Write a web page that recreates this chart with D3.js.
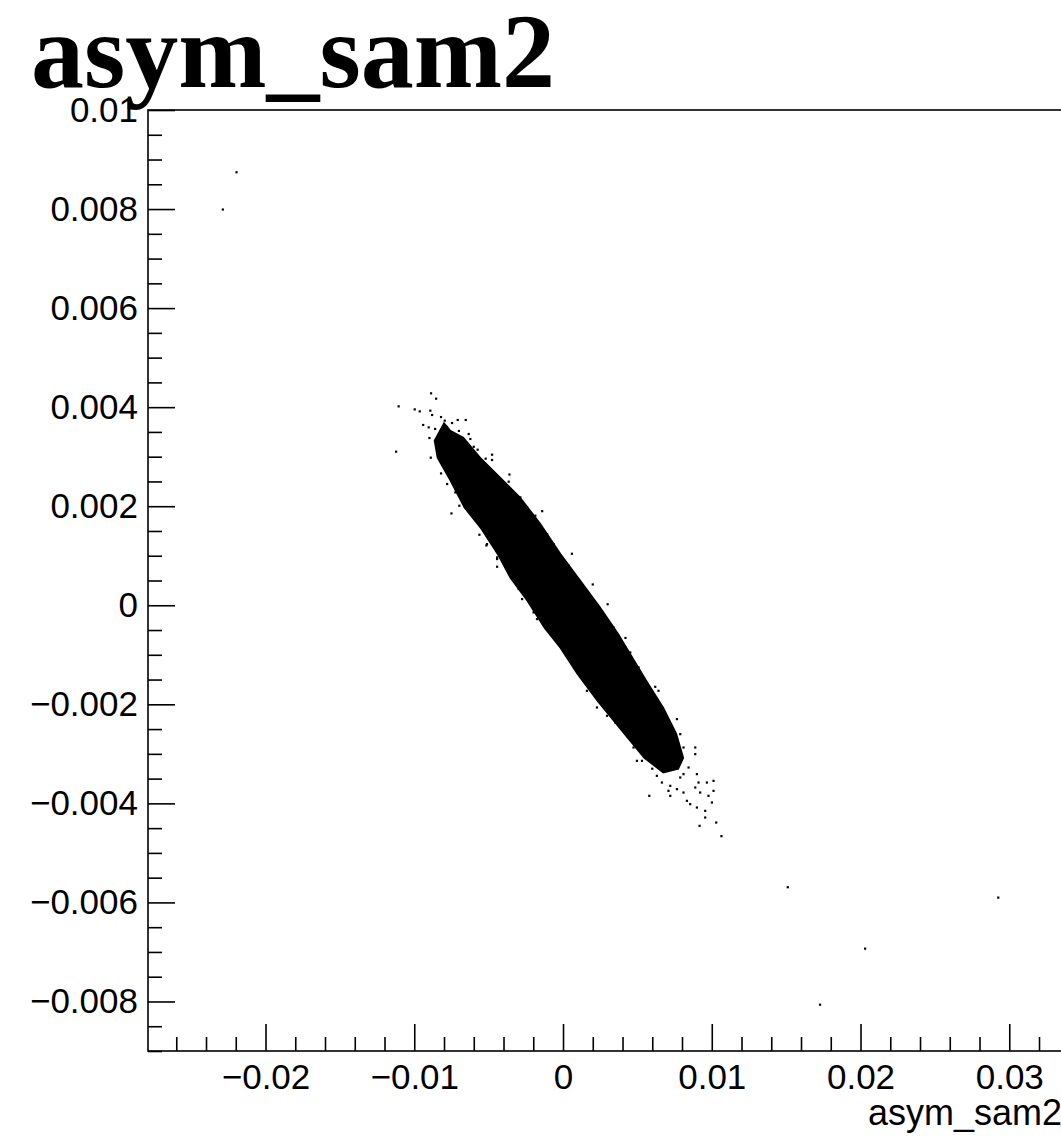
<!DOCTYPE html>
<html>
<head>
<meta charset="utf-8">
<script src="https://cdn.jsdelivr.net/npm/d3@7"></script>
<style>
  html, body { margin: 0; padding: 0; background: #fff; }
  svg { display: block; }
</style>
</head>
<body>
<script>
// ---------------- data ----------------
const chartTitle = "asym_sam2";
const xAxisTitle = "asym_sam2";

const xTicks = [-0.02, -0.01, 0, 0.01, 0.02, 0.03];
const xTickLabels = ["\u22120.02", "\u22120.01", "0", "0.01", "0.02", "0.03"];
const yTicks = [-0.008, -0.006, -0.004, -0.002, 0, 0.002, 0.004, 0.006, 0.008, 0.01];
const yTickLabels = ["\u22120.008", "\u22120.006", "\u22120.004", "\u22120.002", "0",
                     "0.002", "0.004", "0.006", "0.008", "0.01"];

// outline of the saturated (solid black) core of the scatter cloud
const coreOutline = [
  [-0.00800, 0.003680], [-0.00757, 0.003525], [-0.00670, 0.003384], [-0.00556, 0.002980],
  [-0.00421, 0.002576], [-0.00287, 0.002172], [-0.00153, 0.001646], [-0.00018, 0.001040],
  [0.00117, 0.000495], [0.00251, -0.000051], [0.00371, -0.000576], [0.00561, -0.001525],
  [0.00675, -0.002071], [0.00762, -0.002596], [0.00809, -0.003081], [0.00775, -0.003303],
  [0.00674, -0.003380], [0.00546, -0.003081], [0.00412, -0.002596], [0.00231, -0.001929],
  [0.00096, -0.001384], [-0.00018, -0.000859], [-0.00125, -0.000455], [-0.00240, 0.000091],
  [-0.00354, 0.000556], [-0.00441, 0.001040], [-0.00555, 0.001566], [-0.00663, 0.001970],
  [-0.00757, 0.002515], [-0.00844, 0.002980], [-0.00864, 0.003323]
];

// individual events around the edges of the cloud
const haloX = [
  -0.00887, -0.00853, -0.01105, -0.00997, -0.00963, -0.00892, -0.00880, -0.01122, -0.00889, -0.00795,
  -0.00746, -0.00708, -0.00654, -0.00940, -0.00903, -0.00898, -0.00836, -0.00634, -0.00623, -0.00574,
  -0.00477, -0.00477, -0.00820, -0.00779, -0.00724, -0.00750, -0.00697, -0.00578, -0.00562, -0.00515,
  -0.00443, -0.00421, -0.00365, -0.00287, -0.00242, -0.00191, -0.00107, -0.00063, -0.00511, -0.00443,
  -0.00443, -0.00332, -0.00298, -0.00275, -0.00208, -0.00198, -0.00175, 0.00027, -0.00186, -0.00063,
  -0.00007, 0.00038, 0.00116, 0.00161, 0.00273, 0.00340, 0.00452, 0.00340, 0.00508, 0.00620,
  0.00642, 0.00766, 0.00788, 0.00810, 0.00889, 0.00889, 0.00161, 0.00228, 0.00296, 0.00351,
  0.00474, 0.00497, 0.00531, 0.00575, 0.00654, 0.00631, 0.00665, 0.00721, 0.00788, 0.00810,
  0.00844, 0.00900, 0.00911, 0.00709, 0.00766, 0.00810, 0.00889, 0.00967, 0.01012, 0.00922,
  0.00978, 0.01012, 0.00833, 0.00855, 0.00900, 0.00956, 0.01001, 0.00580, 0.00721, 0.00956,
  0.01030, 0.00918, 0.01065,
  -0.00860, -0.00820, -0.00780, -0.00700, -0.00600, -0.00520, -0.00360, -0.00140, 0.00060, 0.00200,
  0.00300, 0.00420, 0.00590, 0.00700, -0.00790, -0.00700, -0.00610, -0.00480, -0.00390, -0.00300,
  -0.00100, 0.00080, 0.00190, 0.00390, 0.00520, 0.00600
];
const haloY = [
  0.004279, 0.004171, 0.004016, 0.003955, 0.003915, 0.003929, 0.003842, 0.003101, 0.002980, 0.003727,
  0.003680, 0.003741, 0.003741, 0.003640, 0.003592, 0.003377, 0.003424, 0.003458, 0.003357, 0.003141,
  0.003040, 0.002933, 0.002662, 0.002448, 0.002279, 0.001854, 0.002010, 0.001943, 0.001424, 0.001208,
  0.000966, 0.002549, 0.002495, 0.002178, 0.001976, 0.001774, 0.001438, 0.001236, 0.001236, 0.000933,
  0.000778, 0.000562, 0.000327, 0.000125, 0.000057, -0.000145, -0.000279, -0.000832, 0.001808, 0.001101,
  0.000933, 0.000798, 0.000360, 0.000192, -0.000246, -0.000582, -0.000953, -0.000448, -0.001256, -0.001646,
  -0.001727, -0.002299, -0.002602, -0.002872, -0.002872, -0.003006, -0.001727, -0.002064, -0.002232, -0.002367,
  -0.002872, -0.003141, -0.003141, -0.002872, -0.003242, -0.003444, -0.003579, -0.003646, -0.003478, -0.003410,
  -0.003276, -0.003410, -0.003579, -0.003747, -0.003713, -0.003781, -0.003680, -0.003579, -0.003545, -0.003781,
  -0.003848, -0.003747, -0.003949, -0.004016, -0.004084, -0.004151, -0.003983, -0.003848, -0.003848, -0.004286,
  -0.004387, -0.004454, -0.004662,
  0.003560, 0.003800, 0.003600, 0.003520, 0.003200, 0.002960, 0.002640, 0.001900, 0.001040, 0.000420,
  0.000020, -0.000660, -0.001780, -0.002500, 0.002820, 0.002300, 0.002020, 0.001500, 0.001000, 0.000800,
  0.000080, -0.000940, -0.001640, -0.002420, -0.002760, -0.003300
];

// isolated outliers far from the cloud
const outlierX = [-0.02195, -0.02287, 0.01511, 0.02926, 0.02031, 0.01728];
const outlierY = [0.008743, 0.007990, -0.005693, -0.005903, -0.006933, -0.008065];

// ---------------- layout ----------------
const W = 1061, H = 1148;
const frame = { left: 148, top: 110, right: 1100, bottom: 1051 };
const xDomain = [-0.0279, 0.0361];
const yDomain = [-0.009, 0.01];

const svg = d3.select("body").append("svg")
  .attr("width", W).attr("height", H)
  .attr("viewBox", `0 0 ${W} ${H}`);

const x = d3.scaleLinear().domain(xDomain).range([frame.left, frame.right]);
const y = d3.scaleLinear().domain(yDomain).range([frame.bottom, frame.top]);

svg.append("defs").append("clipPath").attr("id", "plotclip")
  .append("rect")
  .attr("x", frame.left).attr("y", frame.top)
  .attr("width", frame.right - frame.left).attr("height", frame.bottom - frame.top);

const plot = svg.append("g").attr("clip-path", "url(#plotclip)");

// core cloud
plot.append("path")
  .datum(coreOutline)
  .attr("d", d3.line().x(d => x(d[0])).y(d => y(d[1])).curve(d3.curveLinearClosed))
  .attr("fill", "#000")
  .attr("stroke", "#000")
  .attr("stroke-width", 1.5);

const dot = 2.2;
const pts = haloX.map((v, i) => [v, haloY[i]])
  .concat(outlierX.map((v, i) => [v, outlierY[i]]));
plot.selectAll("rect.pt").data(pts).join("rect")
  .attr("class", "pt")
  .attr("x", d => x(d[0]) - dot / 2)
  .attr("y", d => y(d[1]) - dot / 2)
  .attr("width", dot).attr("height", dot)
  .attr("fill", "#000");

// frame
svg.append("rect")
  .attr("x", frame.left).attr("y", frame.top)
  .attr("width", frame.right - frame.left).attr("height", frame.bottom - frame.top)
  .attr("fill", "none").attr("stroke", "#000").attr("stroke-width", 1.6);

const tickFont = "'Liberation Sans', Arial, Helvetica, sans-serif";
const tickSize = 35;

// minor ticks
const xMinor = d3.range(-0.026, 0.0361, 0.002).filter(v => Math.abs(Math.round(v * 100) - v * 100) > 1e-6);
const yMinor = d3.range(-0.009, 0.01001, 0.0005).filter(v => Math.abs(Math.round(v * 500) - v * 500) > 1e-6);

svg.append("g")
  .attr("transform", `translate(0,${frame.bottom})`)
  .call(d3.axisBottom(x).tickValues(xMinor).tickSizeInner(-14).tickSizeOuter(0).tickFormat(""))
  .call(g => g.select(".domain").remove())
  .call(g => g.selectAll("line").attr("stroke-width", 1.6));

svg.append("g")
  .attr("transform", `translate(${frame.left},0)`)
  .call(d3.axisLeft(y).tickValues(yMinor).tickSizeInner(-14).tickSizeOuter(0).tickFormat(""))
  .call(g => g.select(".domain").remove())
  .call(g => g.selectAll("line").attr("stroke-width", 1.6));

// major ticks + labels
svg.append("g")
  .attr("transform", `translate(0,${frame.bottom})`)
  .call(d3.axisBottom(x).tickValues(xTicks).tickSizeInner(-27).tickSizeOuter(0)
        .tickPadding(13).tickFormat((d, i) => xTickLabels[i]))
  .call(g => g.select(".domain").remove())
  .call(g => g.selectAll("line").attr("stroke-width", 1.6))
  .call(g => g.selectAll("text").attr("font-family", tickFont).attr("font-size", tickSize).attr("fill", "#000"));

svg.append("g")
  .attr("transform", `translate(${frame.left},0)`)
  .call(d3.axisLeft(y).tickValues(yTicks).tickSizeInner(-27).tickSizeOuter(0)
        .tickPadding(10).tickFormat((d, i) => yTickLabels[i]))
  .call(g => g.select(".domain").remove())
  .call(g => g.selectAll("line").attr("stroke-width", 1.6))
  .call(g => g.selectAll("text").attr("font-family", tickFont).attr("font-size", tickSize).attr("fill", "#000"));

// axis title
svg.append("text")
  .attr("x", 868).attr("y", 1125)
  .attr("font-family", tickFont).attr("font-size", 36)
  .text(xAxisTitle);

// chart title
svg.append("text")
  .attr("x", 31).attr("y", 87)
  .attr("font-family", "'Liberation Serif', 'Times New Roman', serif")
  .attr("font-weight", "bold")
  .attr("font-size", 106)
  .text(chartTitle);
</script>
</body>
</html>
